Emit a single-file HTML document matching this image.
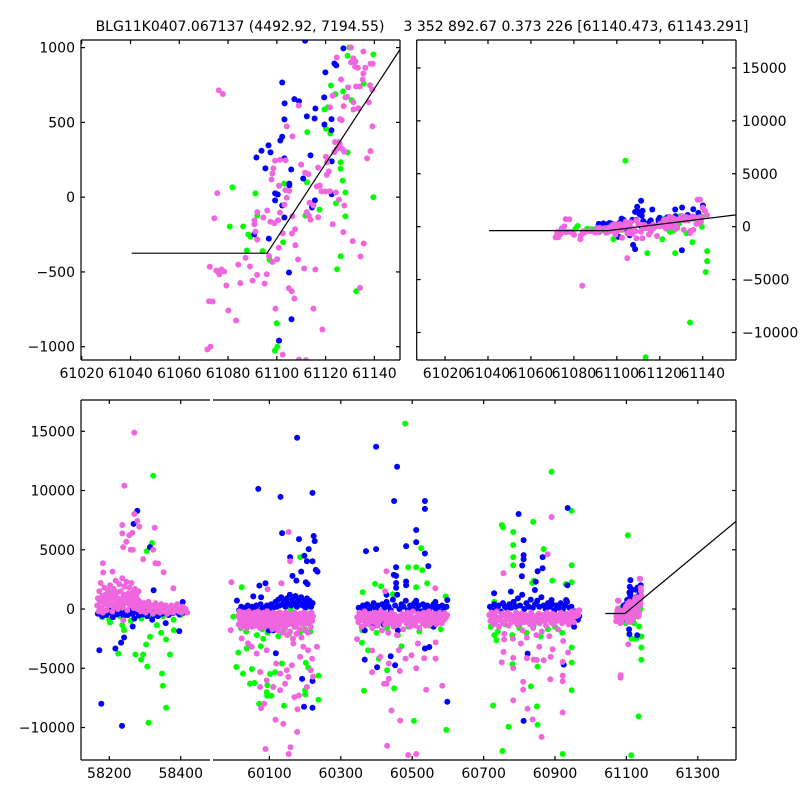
<!DOCTYPE html>
<html><head><meta charset="utf-8"><style>
html,body{margin:0;padding:0;background:#fff}
svg{display:block}
text{font-family:"DejaVu Sans","Liberation Sans",sans-serif;font-size:14px;fill:#000}
</style></head><body>
<svg id="fig" width="800" height="800" viewBox="0 0 800 800">
<rect x="0" y="0" width="800" height="800" fill="#fff"/>
<text x="240" y="31" text-anchor="middle">BLG11K0407.067137 (4492.92, 7194.55)</text>
<text x="576" y="31" text-anchor="middle">3 352 892.67 0.373 226 [61140.473, 61143.291]</text>
</svg>
<script>
// ---- data: last season (shared by zoom panels and bottom panel) ----
const lastBlue = [[61111.6,1046],[61127.3,995],[61123.6,894],[61124.4,881],[61119.9,834],[61102.2,767],[61119.4,667],[61103.2,627],[61107.2,656],[61109.1,642],[61115.8,593],[61103.1,520],[61112.3,540],[61115.5,526],[61122.4,522],[61119.5,486],[61122.4,448],[61102.2,404],[61101.4,379],[61096.6,346],[61097.4,299],[61091.6,265],[61113.8,279],[61103.1,259],[61095.3,192],[61105.9,185],[61122.5,239],[61105.1,91],[61105.1,80],[61110.8,125],[61099.3,25],[61100.4,18],[61099.3,-22],[61115.6,-22],[61102.2,-56],[61114.4,-69],[61103.1,-136],[61090.7,-250],[61096.7,-277],[61105,-504],[61106,-816],[61100.9,-959],[61122.5,20],
[61111.3,2440],[61109.5,1880],[61108.5,1400],[61110.1,1400],[61116.5,1620],[61130.3,-2220],[61108.5,-2120],[61107.6,-1720],[61140.1,2000],[61135.6,1650],[61127.2,1620],[61130.4,1810],[61093.7,310],[61110.5,1200],[61112,1500],[61138,1300],[61133,1100]];
const lastGreen = [[61129.8,1001],[61139.6,954],[61129,945],[61135.6,758],[61130.7,649],[61127.2,707],[61122.2,747],[61124,689],[61119.5,586],[61112.5,435],[61120.8,600],[61120.1,457],[61121.9,426],[61129,299],[61126.2,234],[61126.1,190],[61127,111],[61112.3,100],[61103,91],[61081.8,65],[61091.2,25],[61128.1,31],[61139.6,0],[61080.7,-196],[61086.2,-196],[61092,-123],[61088.3,-250],[61089.1,-263],[61124.2,-42],[61117.5,-83],[61128.1,-129],[61111.7,-123],[61102.6,-301],[61087.7,-357],[61094.2,-361],[61097,-419],[61126.2,-395],[61124.7,-482],[61132.5,-629],[61100,-843],[61099.2,-1026],
[61104,6220],[61134.1,-9060],[61141.4,-4280],[61142.1,-3250],[61142.1,-2310],[61135.2,-1470],[61114.2,-2500],[61127.2,-2500],[61113.4,-12340],[61098.4,-1190],[61100.2,-1000],[61121.2,-1190]];
const lastPink = [[61076.2,714],[61130.4,1001],[61135.5,974],[61131.3,928],[61132.2,907],[61130.4,901],[61136.3,865],[61133.2,865],[61132.1,872],[61138.4,892],[61139.3,892],[61124.6,934],[61126.3,787],[61129.2,734],[61128.8,671],[61128.1,667],[61134,740],[61132.5,740],[61135.2,787],[61135.5,827],[61138.2,749],[61139.1,718],[61137.7,635],[61139.2,473],[61133.4,595],[61131.4,586],[61125.9,522],[61126.6,515],[61131.4,635],[61109,613],[61104.1,473],[61106.4,406],[61122.9,678],[61121.8,600],[61127.4,609],[61123.9,368],[61125.5,368],[61125.8,352],[61126.8,323],[61124.6,323],[61123.6,301],[61127.6,305],[61137,259],[61138.4,308],[61103.6,247],[61099.3,243],[61101.3,250],[61110,218],[61111.6,163],[61113,154],[61116.9,198],[61120.1,270],[61120.6,234],[61121.3,172],[61120.5,149],[61098.6,192],[61098.2,158],[61097.8,118],[61100.9,76],[61103.5,47],[61104.1,-4],[61105.1,42],[61116.4,71],[61117.6,78],[61118.3,40],[61119.9,38],[61121.7,40],[61124.2,31],[61113.4,-38],[61115,-56],[61116.9,-134],[61112.3,-100],[61113.1,-123],[61113.8,-150],[61122.9,-181],[61127.3,-234],[61131.1,-294],[61134.3,-397],[61134.1,-607],[61125.5,-16],[61127.7,-56],[61096.1,-89],[61097.4,-165],[61099,-174],[61101.3,-103],[61100.5,-154],[61103.1,-51],[61092,-100],[61094.5,-136],[61090.8,-156],[61090.8,-181],[61092,-283],[61074.4,-141],[61075.6,27],[61091.2,-230],[61072.5,-466],[61075.2,-491],[61076.4,-515],[61077.3,-484],[61078.4,-497],[61079.3,-591],[61072.2,-696],[61080.1,-758],[61083.3,-825],[61085,-575],[61084.2,-451],[61087.2,-406],[61090,-558],[61089,-464],[61091.9,-520],[61095,-578],[61095.9,-515],[61098.2,-433],[61100.1,-415],[61096.8,-393],[61100.8,-337],[61102.4,-241],[61106.2,-243],[61107.5,-214],[61106.4,-127],[61107.6,-321],[61108.7,-417],[61111.2,-477],[61115.8,-484],[61104.9,-609],[61106.1,-629],[61107.2,-678],[61099.4,-745],[61115,-745],[61118.7,-885],[61109.1,-1086],[61102.4,-1053],[61071.5,-1019],[61073.7,-698],
[61083.9,-5590],[61104.9,-2970],[61137.6,2560],[61138.7,2560],[61077.9,690],[61072.8,-1000],[61083,-1190],[61111.9,-1090],[61135.6,-310],[61141,1500],[61142,1100],[61140,1800]];

// ---- data: earlier seasons (bottom panel) ----
const earlyPink = [[58166,300],[58168,900],[58170,-200],[58172,1500],[58174,600],[58176,2200],[58178,100],[58180,1100],[58182,-300],[58184,700],[58186,1800],[58188,400],[58190,1200],[58192,-100],[58194,800],[58196,1600],[58198,300],[58200,1000],[58202,2000],[58204,500],[58206,1300],[58208,-200],[58210,900],[58212,1700],[58214,200],[58216,1100],[58218,2400],[58220,600],[58222,1400],[58224,0],[58226,900],[58228,2100],[58230,400],[58232,1500],[58234,800],[58236,2600],[58238,200],[58240,1200],[58242,1900],[58244,500],[58246,1000],[58248,2300],[58250,-100],[58252,1300],[58254,700],[58256,1800],[58258,300],[58260,1100],[58262,2200],[58264,600],[58266,1400],[58268,100],[58270,900],[58272,1700],[58274,400],[58276,1200],[58278,0],[58280,800],[58282,1500],[58284,300],[58286,600],[58288,-200],[58290,400],[58294,100],[58298,500],[58302,-300],[58306,200],[58310,600],[58314,-100],[58318,300],[58322,-400],[58326,100],[58330,500],[58334,-200],[58338,200],[58342,-300],[58346,400],[58350,0],[58354,-200],[58358,300],[58362,-400],[58366,100],[58370,-100],[58374,300],[58378,-300],[58382,200],[58386,-100],[58390,400],[58394,-200],[58398,100],[58402,-300],[58406,200],[58410,-100],[58414,0],[58418,-300],
[58270,14890],[58242,10400],[58270,8020],[58278.5,7430],[58236.5,7090],[58284,6950],[58236.5,6380],[58256,6220],[58264.5,6440],[58247.7,5680],[58239,5230],[58260,5000],[58266,5000],[58295,4210],[58327,6860],[58323,5000],[58329,3870],[58336.5,3840],[58352,3110],[58182,3870],[58183,3080],[58209,3160],[58379.5,1750],[58239,-930],
[60012,-600],[60014,-1300],[60016,-200],[60018,-900],[60020,-1500],[60022,-400],[60024,-1000],[60026,-700],[60028,-1400],[60030,-300],[60032,-1100],[60034,-800],[60036,-1600],[60038,-500],[60040,-1000],[60042,-200],[60044,-1300],[60046,-700],[60048,-1000],[60050,-400],[60052,-1500],[60054,-800],[60056,-1100],[60058,-300],[60060,-900],[60062,-1400],[60064,-600],[60066,-1200],[60068,-200],[60070,-1000],[60072,-700],[60074,-1600],[60076,-400],[60078,-1100],[60080,-800],[60082,-1300],[60084,-300],[60086,-900],[60088,-1500],[60090,-600],[60092,-1100],[60094,-200],[60096,-1000],[60098,-700],[60100,-1400],[60102,-500],[60104,-1200],[60106,-800],[60108,-1700],[60110,-300],[60112,-1000],[60114,-600],[60116,-1500],[60118,-900],[60120,-1200],[60122,-400],[60124,-1800],[60126,-700],[60128,-1100],[60130,-300],[60132,-1400],[60134,-800],[60136,-2000],[60138,-500],[60140,-1200],[60142,-900],[60144,-1600],[60146,-300],[60148,-1000],[60150,-2200],[60152,-700],[60154,-1300],[60156,-400],[60158,-1900],[60160,-900],[60162,-1200],[60164,-600],[60166,-2500],[60168,-1000],[60170,-300],[60172,-1500],[60174,-800],[60176,-2100],[60178,-500],[60180,-1200],[60182,-900],[60184,-1700],[60186,-400],[60188,-1100],[60190,-2400],[60192,-700],[60194,-1300],[60196,-300],[60198,-1000],[60200,-1800],[60202,-600],[60204,-1200],[60206,-900],[60208,-2000],[60210,-400],[60212,-1100],[60214,-700],[60216,-1500],[60218,-300],[60220,-1000],[60222,-600],
[60154,6500],[60158,4040],[60133.6,2180],[60095,1670],[59993.5,2260],[60089,-11810],[60154,-12230],[60159,-11670],[60177.6,-10370],[60117,-9350],[60139,-9690],[60178.6,-8450],[60076.6,-8360],[60085,-8000],[60074,-6580],[60092.5,-6020],[60111,-6580],[60130,-6860],[60144,-6300],[60153,-5730],[60170,-7430],[60183,-7300],[60205,-6580],[60216,-5170],[60222,-5700],[60219.6,-4180],[60208.4,-3470],[60186,-4040],[60162.6,-4750],[60148.6,-5170],[60130,-5450],[60118.7,-4600],[60074,-5310],[60064.5,-3760],[60050.5,-3190],[60022.4,-2490],[59991.6,-1780],[60040,-2900],[60092.5,-3470],[60167,-2910],[60195,-3190],[60233,-3190],
[60346,-700],[60349,-1100],[60352,-300],[60355,-900],[60358,-1500],[60361,-500],[60364,-1000],[60367,-200],[60370,-1300],[60373,-800],[60376,-600],[60379,-1200],[60382,-400],[60385,-1000],[60388,-1600],[60391,-700],[60394,-1100],[60397,-300],[60400,-900],[60403,-1400],[60406,-500],[60409,-1000],[60412,-200],[60415,-1800],[60418,-800],[60421,-600],[60424,-1300],[60427,-400],[60430,-1000],[60433,-2000],[60436,-700],[60439,-1200],[60442,-300],[60445,-900],[60448,-1500],[60451,-500],[60454,-1100],[60457,-2200],[60460,-800],[60463,-1300],[60466,-600],[60469,-1000],[60472,-400],[60475,-1700],[60478,-900],[60481,-700],[60484,-1200],[60487,-300],[60490,-1000],[60493,-1500],[60496,-600],[60499,-1100],[60502,-200],[60505,-900],[60508,-1400],[60511,-700],[60514,-1000],[60517,-400],[60520,-1600],[60523,-800],[60526,-600],[60529,-1200],[60532,-300],[60535,-900],[60538,-1400],[60541,-500],[60544,-1000],[60547,-200],[60550,-1300],[60553,-800],[60556,-600],[60559,-1100],[60562,-400],[60565,-900],[60568,-1300],[60571,-500],[60574,-1000],[60577,-300],[60580,-800],[60583,-1200],[60586,-600],[60589,-900],[60592,-400],[60595,-700],[60598,-500],
[60427.9,3190],[60564.6,1750],[60424.2,1500],[60345.4,-2540],[60387.6,-5340],[60421.3,-6300],[60428,-6300],[60434.4,-5880],[60441.9,-8560],[60466.3,-9410],[60429.7,-11550],[60488.8,-12320],[60511.2,-12230],[60584.3,-6470],[60539.3,-6810],[60511.2,-5000],[60533.7,-4150],[60498,-3900],[60481.3,-4180],[60465.3,-5230],[60462.5,-3470],[60516,-2910],[60434.4,-4600],[60411,-4040],[60388,-3500],[60565.6,-4180],[60565.6,-2820],
[60716,-500],[60719,-1000],[60722,-300],[60725,-800],[60728,-1300],[60731,-600],[60734,-1100],[60737,-200],[60740,-900],[60743,-1500],[60746,-700],[60749,-1000],[60752,-400],[60755,-1200],[60758,-2100],[60761,-600],[60764,-900],[60767,-300],[60770,-1400],[60773,-800],[60776,-500],[60779,-1100],[60782,-2500],[60785,-700],[60788,-1000],[60791,-300],[60794,-1300],[60797,-900],[60800,-600],[60803,-1200],[60806,-400],[60809,-1800],[60812,-800],[60815,-1100],[60818,-500],[60821,-2400],[60824,-900],[60827,-700],[60830,-1300],[60833,-300],[60836,-1000],[60839,-1600],[60842,-600],[60845,-1100],[60848,-2200],[60851,-800],[60854,-400],[60857,-1200],[60860,-900],[60863,-1900],[60866,-500],[60869,-1000],[60872,-700],[60875,-1400],[60878,-300],[60881,-900],[60884,-2300],[60887,-600],[60890,-1100],[60893,-400],[60896,-1300],[60899,-800],[60902,-500],[60905,-1000],[60908,-1700],[60911,-600],[60914,-900],[60917,-300],[60920,-1200],[60923,-2700],[60926,-700],[60929,-1000],[60932,-400],[60935,-800],[60938,-1300],[60941,-500],[60944,-900],[60947,-200],[60950,-700],[60953,-1100],[60956,-400],[60959,-600],[60962,-200],[60965,-500],[60968,-100],
[60879.4,4630],[60890.6,7770],[60755.7,3020],[60782.9,-7710],[60811,-6130],[60811,-6800],[60823.2,-8420],[60837.3,-9320],[60862.5,-10790],[60921.6,-8730],[60886.9,-5930],[60921.6,-5620],[60921.6,-6100],[60921.6,-4460],[60751,-4490],[60755.7,-3620],[60782.9,-4120],[60782.9,-5000],[60821.3,-4150],[60840,-4270],[60849,-4300],[60868.2,-4320],[60887.8,-4040],[60893.5,-3390],[60936.6,-3670],[60856,-3190],[60804.5,-2910],[60757.6,-2570],
[61083.6,-5790]];
const earlyBlue = [[58168,-400],[58174,-100],[58180,-600],[58186,-200],[58192,-500],[58198,0],[58204,-300],[58210,-700],[58216,-150],[58222,-450],[58228,100],[58234,-350],[58240,-600],[58246,-200],[58252,-500],[58258,0],[58264,-400],[58270,-800],[58276,-250],[58282,-550],[58288,-100],[58294,-450],[58300,-200],[58306,-600],[58312,-300],[58318,-100],[58324,-500],[58330,-250],[58336,-600],[58342,-150],[58348,-400],[58354,0],[58360,-300],[58366,-500],[58372,-100],[58378,-350],[58384,50],[58390,-250],[58396,-450],[58402,-100],[58408,-300],
[58278.5,8280],[58268,7180],[58314,5230],[58324,1580],[58172,-3470],[58177.5,-7990],[58235.5,-9860],[58217,-3330],[58233,-2830],[58241.4,-2400],[58265.5,-1470],[58396,-1860],[58405.6,590],[58358,-1190],[58320,-900],
[60015,-100],[60021,200],[60027,-300],[60033,100],[60039,300],[60045,-200],[60051,200],[60057,0],[60063,300],[60069,-100],[60075,400],[60081,100],[60087,-200],[60093,300],[60099,0],[60105,400],[60111,100],[60117,600],[60121,200],[60125,800],[60129,300],[60133,1000],[60137,400],[60141,700],[60145,200],[60149,900],[60153,500],[60157,1200],[60161,300],[60165,800],[60169,500],[60173,1100],[60177,200],[60181,700],[60185,400],[60189,1000],[60193,300],[60197,600],[60201,100],[60205,900],[60209,400],[60213,700],[60217,200],[60221,500],
[60177.6,14460],[60069,10140],[60131,9460],[60220.6,9800],[60135.5,6410],[60183,5900],[60158,4380],[60198,4490],[60205,4040],[60220.6,4040],[60210,5060],[60224,6160],[60227,5730],[60230,3300],[60234.6,3160],[60189,3160],[60164.5,2800],[60202,2260],[60207,2100],[60175.7,2400],[60072,1980],[60089,2180],[60055,1070],[60076.6,990],[60009,710],[60118,-3730],[60191.6,-5900],[60197,-8250],[60220.6,-8330],[60220.6,-6070],[60098,-1800],[60111,-1800],
[60350,100],[60356,-200],[60362,300],[60368,0],[60374,400],[60380,-100],[60386,200],[60392,500],[60398,0],[60404,300],[60410,-200],[60416,400],[60422,100],[60428,600],[60434,200],[60440,-100],[60446,800],[60452,300],[60458,1200],[60464,0],[60470,400],[60476,200],[60482,700],[60488,-100],[60494,300],[60500,100],[60506,500],[60512,0],[60518,300],[60524,-200],[60530,400],[60536,100],[60542,300],[60548,-100],[60554,200],[60560,400],[60566,0],[60572,200],[60578,-200],[60584,300],[60590,100],[60596,200],[60370,-1200],[60390,-1500],[60420,-1300],[60460,-1800],[60500,-1000],[60560,-1500],
[60398.8,13700],[60457.8,12010],[60449.4,9120],[60535.6,9120],[60535.6,8450],[60511.2,6670],[60511.2,5650],[60483,5310],[60370.7,4890],[60398.8,5060],[60535.6,4690],[60545,3620],[60455,3530],[60448.5,2880],[60455,2800],[60483,2320],[60483,2000],[60455,2200],[60455,1800],[60428,1190],[60598.4,760],[60565,600],[60511,700],[60535.6,-3330],[60548,-3200],[60401.6,-4920],[60367,-4270],[60439.8,-3980],[60452,-4750],[60598.4,-7830],[60367,-1800],
[60718,200],[60724,-100],[60730,400],[60736,100],[60742,300],[60748,-200],[60754,500],[60760,200],[60766,0],[60772,400],[60778,100],[60784,600],[60790,200],[60796,900],[60802,300],[60808,1200],[60814,0],[60820,500],[60826,200],[60832,800],[60838,100],[60844,400],[60850,700],[60856,200],[60862,1000],[60868,300],[60874,0],[60880,500],[60886,200],[60892,400],[60898,-100],[60904,300],[60910,100],[60916,500],[60922,0],[60928,300],[60934,600],[60940,100],[60946,200],[60952,-400],[60958,-200],[60964,-900],[60968,-600],
[60797.9,8020],[60811.9,5820],[60811.9,4550],[60811.9,4200],[60808.2,3670],[60807.2,2770],[60865.3,4380],[60865.3,3450],[60851.3,3190],[60935.6,8530],[60934.6,2010],[60843.8,1610],[60846,2300],[60729.5,1330],[60776.4,1470],[60890.6,760],[60931,760],[60811.9,-9440],[60924.4,-4690],[60823.2,-3760],[60953.4,-1500]];
const earlyGreen = [[58180,-700],[58200,-900],[58230,-600],[58260,-1000],[58290,-800],[58320,-700],[58350,-600],[58380,-900],[58400,-500],
[58323,11240],[58319.6,5570],[58304.7,4890],[58314,-2340],[58303,-2990],[58295,-3840],[58273,-3840],[58289,-4270],[58306.5,-4860],[58225,-3760],[58347.7,-5450],[58350,-6470],[58359,-8330],[58310,-9600],[58370,-3840],[58359,-2570],[58381,-1780],[58241,-1780],[58236,-1360],[58202,-1130],[58345,-2000],[58333,-1360],
[60020,-1600],[60035,-1900],[60050,-1500],[60065,-2200],[60080,-1700],[60095,-2000],[60110,-1600],[60125,-2300],[60140,-1800],[60155,-2100],[60170,-1500],[60185,-2000],[60200,-1700],[60215,-1900],[60040,-400],[60100,-300],[60160,0],[60210,200],
[60022.4,1840],[60186,4380],[59999,-650],[60013,-3670],[60007.5,-4890],[60026,-5450],[60051,-5060],[60045.6,-6300],[60058,-6240],[60071,-8000],[60092.5,-7010],[60093.5,-7320],[60105.6,-7320],[60094.4,-6440],[60102,-5480],[60116,-5340],[60135,-4600],[60141,-8160],[60200,-6860],[60200,-7200],[60237.4,-7660],[60237.4,-5620],[60209,-4940],[60202,-4550],[60076,-3140],[60036.5,-3330],[60083,-2500],
[60360,-1800],[60380,-1300],[60400,-2000],[60430,-1600],[60460,-2200],[60490,-1500],[60520,-1900],[60550,-1400],[60580,-1700],[60370,200],[60430,500],[60500,300],[60570,100],
[60480.3,15650],[60525.3,5140],[60511.2,3530],[60488.8,3530],[60528,3280],[60395.8,2120],[60412.9,1920],[60511.2,1840],[60542,2180],[60361.4,1410],[60445.7,1240],[60593.7,1070],[60504.7,-9440],[60595.6,-10200],[60449.4,-6700],[60364.9,-6890],[60406.3,-4180],[60376.3,-3470],[60470,-3140],[60359.5,-2850],[60429.7,-5170],
[60720,-1500],[60740,-1900],[60760,-1300],[60780,-2200],[60800,-1600],[60820,-2000],[60840,-1400],[60860,-2300],[60880,-1700],[60900,-1500],[60920,-2000],[60940,-1200],[60960,-800],[60730,600],[60790,300],[60850,500],[60920,400],
[60890.6,11580],[60946.8,8280],[60751,7090],[60754,6900],[60839,7350],[60782.9,6500],[60782.9,5400],[60782.9,4380],[60782.9,3700],[60868.2,5060],[60892.6,2400],[60946.8,3700],[60946.8,2260],[60836,2200],[60841,2400],[60930,2100],[60726.7,-8140],[60753,-11980],[60769.8,-9940],[60849.4,-8220],[60851.3,-9770],[60832.6,-6530],[60946.8,-6860],[60921.6,-12230],[60946.8,-4520],[60946.8,-3250],[60851.3,-4860],[60781,-4660],[60736,-2630],[60730,-2200]];

// ---- model curve ----
const modelT = [61040.5, 61096, 61407];
const modelF = [-375, -375, 7400];

// ---- tick labels ----
const zoomXTicks = [61020, 61040, 61060, 61080, 61100, 61120, 61140];
const tlYTicks = [-1000, -500, 0, 500, 1000];
const bigYTicks = [-10000, -5000, 0, 5000, 10000, 15000];
const brLeftXTicks = [58200, 58400];
const brRightXTicks = [60100, 60300, 60500, 60700, 60900, 61100, 61300];

const NS = "http://www.w3.org/2000/svg";
const svg = document.getElementById('fig');
const COL = {g:'#00ff00', b:'#0000ff', p:'#ef66de'};
let clipN = 0;
function mk(tag, attrs, parent){ const e = document.createElementNS(NS, tag); for (const k in attrs) e.setAttribute(k, attrs[k]); (parent||svg).appendChild(e); return e; }
function fmt(v){ return v < 0 ? '\u2212' + Math.abs(v) : String(v); }

function panel(o){
  const sx = v => o.px0 + (v - o.t0) / (o.t1 - o.t0) * (o.px1 - o.px0);
  const sy = v => o.py1 - (v - o.f0) / (o.f1 - o.f0) * (o.py1 - o.py0);
  const id = 'clip' + (clipN++);
  const cp = mk('clipPath', {id:id});
  mk('rect', {x:o.px0, y:o.py0, width:o.px1-o.px0, height:o.py1-o.py0}, cp);
  const g = mk('g', {'clip-path':'url(#'+id+')'});
  
  
  const series = [['g', o.green, 'green'], ['b', o.blue, 'blue'], ['p', o.pink, 'pink']];
  for (const [c, arrs, nm] of series){
    for (const arr of arrs){
      for (const pt of arr){
        const x = sx(pt[0]), y = sy(pt[1]);
        if (x < o.px0-4 || x > o.px1+4 || y < o.py0-4 || y > o.py1+4) continue;
        const d = mk('circle', {cx:x.toFixed(1), cy:y.toFixed(1), r:3, fill:COL[c]}, g);
        
        
      }
    }
  }
  const pts = modelT.map((t,i) => sx(t).toFixed(1) + ',' + sy(modelF[i]).toFixed(1)).join(' ');
  const ln = mk('polyline', {points:pts, fill:'none', stroke:'#000', 'stroke-width':1.2}, g);
  
  
  const sp = mk('g', {stroke:'#000', 'stroke-width':1.2, fill:'none'});
  
  
  mk('line', {x1:o.px0, y1:o.py0, x2:o.px1, y2:o.py0}, sp);
  mk('line', {x1:o.px0, y1:o.py1, x2:o.px1, y2:o.py1}, sp);
  if (o.leftSpine) mk('line', {x1:o.px0, y1:o.py0, x2:o.px0, y2:o.py1}, sp);
  if (o.rightSpine) mk('line', {x1:o.px1, y1:o.py0, x2:o.px1, y2:o.py1}, sp);
  for (const t of o.xticks){
    const x = sx(t);
    mk('line', {x1:x, y1:o.py1, x2:x, y2:o.py1-4}, sp);
    mk('line', {x1:x, y1:o.py0, x2:x, y2:o.py0+4}, sp);
    const tx = mk('text', {x:x, y:o.py1+18, 'text-anchor':'middle'});
    tx.textContent = t;
    
    
  }
  for (const f of o.yticks){
    const y = sy(f);
    if (o.leftSpine) mk('line', {x1:o.px0, y1:y, x2:o.px0+4, y2:y}, sp);
    if (o.rightSpine) mk('line', {x1:o.px1, y1:y, x2:o.px1-4, y2:y}, sp);
    if (o.ylabels === 'left'){
      const tx = mk('text', {x:o.px0-6, y:y+5, 'text-anchor':'end'});
      tx.textContent = fmt(f);
      
      
    } else if (o.ylabels === 'right'){
      const tx = mk('text', {x:o.px1+6, y:y+5, 'text-anchor':'start'});
      tx.textContent = fmt(f);
      
      
    }
  }
}

const lastAll = {green:[lastGreen], blue:[lastBlue], pink:[lastPink]};
panel(Object.assign({name:'top-left-zoom', t0:61019.7, t1:61150.5, f0:-1089, f1:1051, px0:81, px1:400, py0:40, py1:360,
  leftSpine:true, rightSpine:true, xticks:zoomXTicks, yticks:tlYTicks, ylabels:'left'}, lastAll));
panel(Object.assign({name:'top-right-zoom', t0:61006.8, t1:61155.5, f0:-12600, f1:17640, px0:416.7, px1:736, py0:40, py1:360,
  leftSpine:true, rightSpine:true, xticks:zoomXTicks, yticks:bigYTicks, ylabels:'right'}, lastAll));
const allData = {green:[earlyGreen, lastGreen], blue:[earlyBlue, lastBlue], pink:[earlyPink, lastPink]};
panel(Object.assign({name:'bottom-left-segment', t0:58120.7, t1:58482, f0:-12740, f1:17640, px0:81, px1:210, py0:400, py1:760,
  leftSpine:true, rightSpine:false, xticks:brLeftXTicks, yticks:bigYTicks, ylabels:'left'}, allData));
panel(Object.assign({name:'bottom-right-segment', t0:59942, t1:61407, f0:-12740, f1:17640, px0:213, px1:736, py0:400, py1:760,
  leftSpine:false, rightSpine:true, xticks:brRightXTicks, yticks:bigYTicks, ylabels:'none'}, allData));
</script>
</body></html>
